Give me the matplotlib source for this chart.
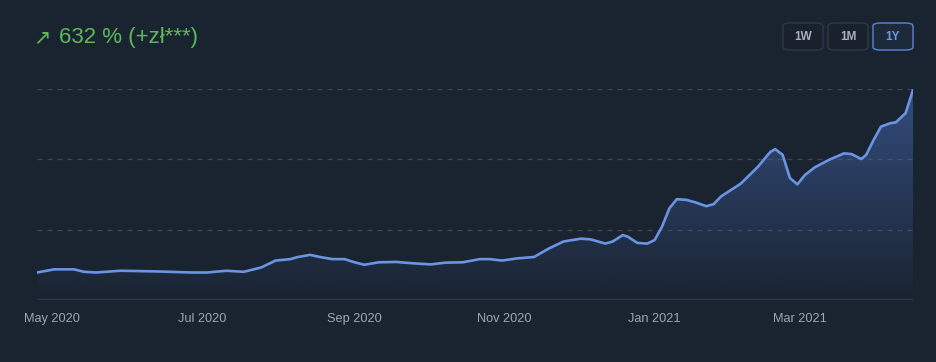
import matplotlib
matplotlib.use("Agg")
import matplotlib.pyplot as plt
import matplotlib.dates as mdates
from matplotlib.patches import FancyBboxPatch, Polygon
import numpy as np
import datetime as dt

# ---- data ----
dates = ["2020-04-25", "2020-05-02", "2020-05-10", "2020-05-14", "2020-05-19", "2020-05-29",
         "2020-06-13", "2020-06-27", "2020-07-03", "2020-07-11", "2020-07-18", "2020-07-25",
         "2020-07-31", "2020-08-06", "2020-08-09", "2020-08-14", "2020-08-18", "2020-08-23",
         "2020-08-28", "2020-09-01", "2020-09-05", "2020-09-11", "2020-09-18", "2020-09-25",
         "2020-10-02", "2020-10-08", "2020-10-15", "2020-10-22", "2020-10-26", "2020-10-31",
         "2020-11-06", "2020-11-13", "2020-11-19", "2020-11-25", "2020-12-02", "2020-12-06",
         "2020-12-12", "2020-12-15", "2020-12-19", "2020-12-21", "2020-12-25", "2020-12-29",
         "2021-01-01", "2021-01-04", "2021-01-07", "2021-01-10", "2021-01-14", "2021-01-18",
         "2021-01-22", "2021-01-25", "2021-01-28", "2021-02-01", "2021-02-05", "2021-02-12",
         "2021-02-17", "2021-02-19", "2021-02-22", "2021-02-25", "2021-02-28", "2021-03-03",
         "2021-03-07", "2021-03-13", "2021-03-19", "2021-03-22", "2021-03-26", "2021-03-28",
         "2021-03-31", "2021-04-03", "2021-04-07", "2021-04-09", "2021-04-13", "2021-04-16"]
values = [0.39, 0.435, 0.435, 0.40, 0.39, 0.415,
          0.405, 0.39, 0.39, 0.415, 0.40, 0.46,
          0.56, 0.58, 0.61, 0.64, 0.61, 0.58,
          0.58, 0.535, 0.50, 0.535, 0.54, 0.52,
          0.505, 0.53, 0.535, 0.58, 0.58, 0.56,
          0.59, 0.61, 0.73, 0.83, 0.87, 0.86,
          0.80, 0.83, 0.92, 0.90, 0.81, 0.80,
          0.85, 1.04, 1.30, 1.43, 1.42, 1.38,
          1.33, 1.36, 1.47, 1.56, 1.65, 1.89,
          2.10, 2.14, 2.06, 1.73, 1.64, 1.77,
          1.88, 1.99, 2.08, 2.07, 2.00, 2.06,
          2.27, 2.46, 2.51, 2.52, 2.65, 2.98]
tick_dates = ["2020-05-01", "2020-07-01", "2020-09-01", "2020-11-01", "2021-01-01", "2021-03-01"]
title_text = "632 % (+zł***)"
buttons = ["1W", "1M", "1Y"]
active_button = "1Y"

# ---- style ----
BG = "#1a2431"
LINE = "#6a94e4"
GRID = "#3a4657"
TXT = "#9ea7b3"
GREEN = "#5cb85c"
FONT = ["Liberation Sans", "DejaVu Sans"]

plt.rcParams["font.family"] = FONT

W, H = 937, 362
fig = plt.figure(figsize=(W / 100, H / 100), dpi=100, facecolor=BG)

x0, x1 = 37, 913
y_base, y_top = 300, 88.5
ax = fig.add_axes([x0 / W, (H - y_base) / H, (x1 - x0) / W, (y_base - y_top) / H])
ax.set_facecolor(BG)

xd = mdates.date2num([dt.datetime.strptime(d, "%Y-%m-%d") for d in dates])
yv = np.array(values)

ax.set_xlim(xd[0], xd[-1])
ax.set_ylim(0, 3.0)

# gradient fill under line
grad = np.zeros((256, 1, 4))
rgb = matplotlib.colors.to_rgb("#4a6fbf")
grad[:, 0, 0:3] = rgb
grad[:, 0, 3] = np.linspace(0.0, 0.55, 256)
im = ax.imshow(grad, aspect="auto", origin="lower",
               extent=[xd[0], xd[-1], 0, 3.0], zorder=1, interpolation="bilinear")
poly = Polygon(np.column_stack([np.r_[xd[0], xd, xd[-1]], np.r_[0, yv, 0]]),
               closed=True, facecolor="none", edgecolor="none", transform=ax.transData)
ax.add_patch(poly)
im.set_clip_path(poly)

ax.plot(xd, yv, color=LINE, lw=1.9, solid_joinstyle="round", solid_capstyle="round", zorder=3)

# gridlines
for g in [1, 2, 3]:
    ax.axhline(g, color=GRID, lw=0.9, ls=(0, (4, 4)), zorder=0)
ax.axhline(0, color="#2f3b4a", lw=1.2, zorder=2)

for s in ax.spines.values():
    s.set_visible(False)
ax.set_yticks([])
tk = mdates.date2num([dt.datetime.strptime(d, "%Y-%m-%d") for d in tick_dates])
ax.set_xticks(tk)
ax.set_xticklabels([dt.datetime.strptime(d, "%Y-%m-%d").strftime("%b %Y") for d in tick_dates],
                   color=TXT, fontsize=9.2)
ax.tick_params(axis="x", length=0, pad=9.5)

# title
fig.text(33 / W, (H - 37) / H, "↗", color=GREEN, fontsize=15, va="center", ha="left",
         family=["DejaVu Sans"])
fig.text(59 / W, (H - 37) / H, title_text, color=GREEN, fontsize=16, va="center", ha="left")

# buttons
bx = [783, 828, 873]
for b, xb in zip(buttons, bx):
    active = b == active_button
    patch = FancyBboxPatch(((xb) / W, (H - 50) / H), 40 / W, 27 / H,
                           boxstyle="round,pad=0,rounding_size=0.008",
                           transform=fig.transFigure,
                           facecolor="#1d2a3c" if active else "#18212c",
                           edgecolor="#5b84d6" if active else "#2d3846", lw=1.0)
    fig.patches.append(patch)
    fig.text((xb + 20) / W, (H - 36.5) / H, b, color="#6e97e6" if active else "#a8b0ba",
             fontsize=8.5, fontweight="bold", ha="center", va="center")

fig.savefig("out.png", dpi=100, facecolor=BG)
